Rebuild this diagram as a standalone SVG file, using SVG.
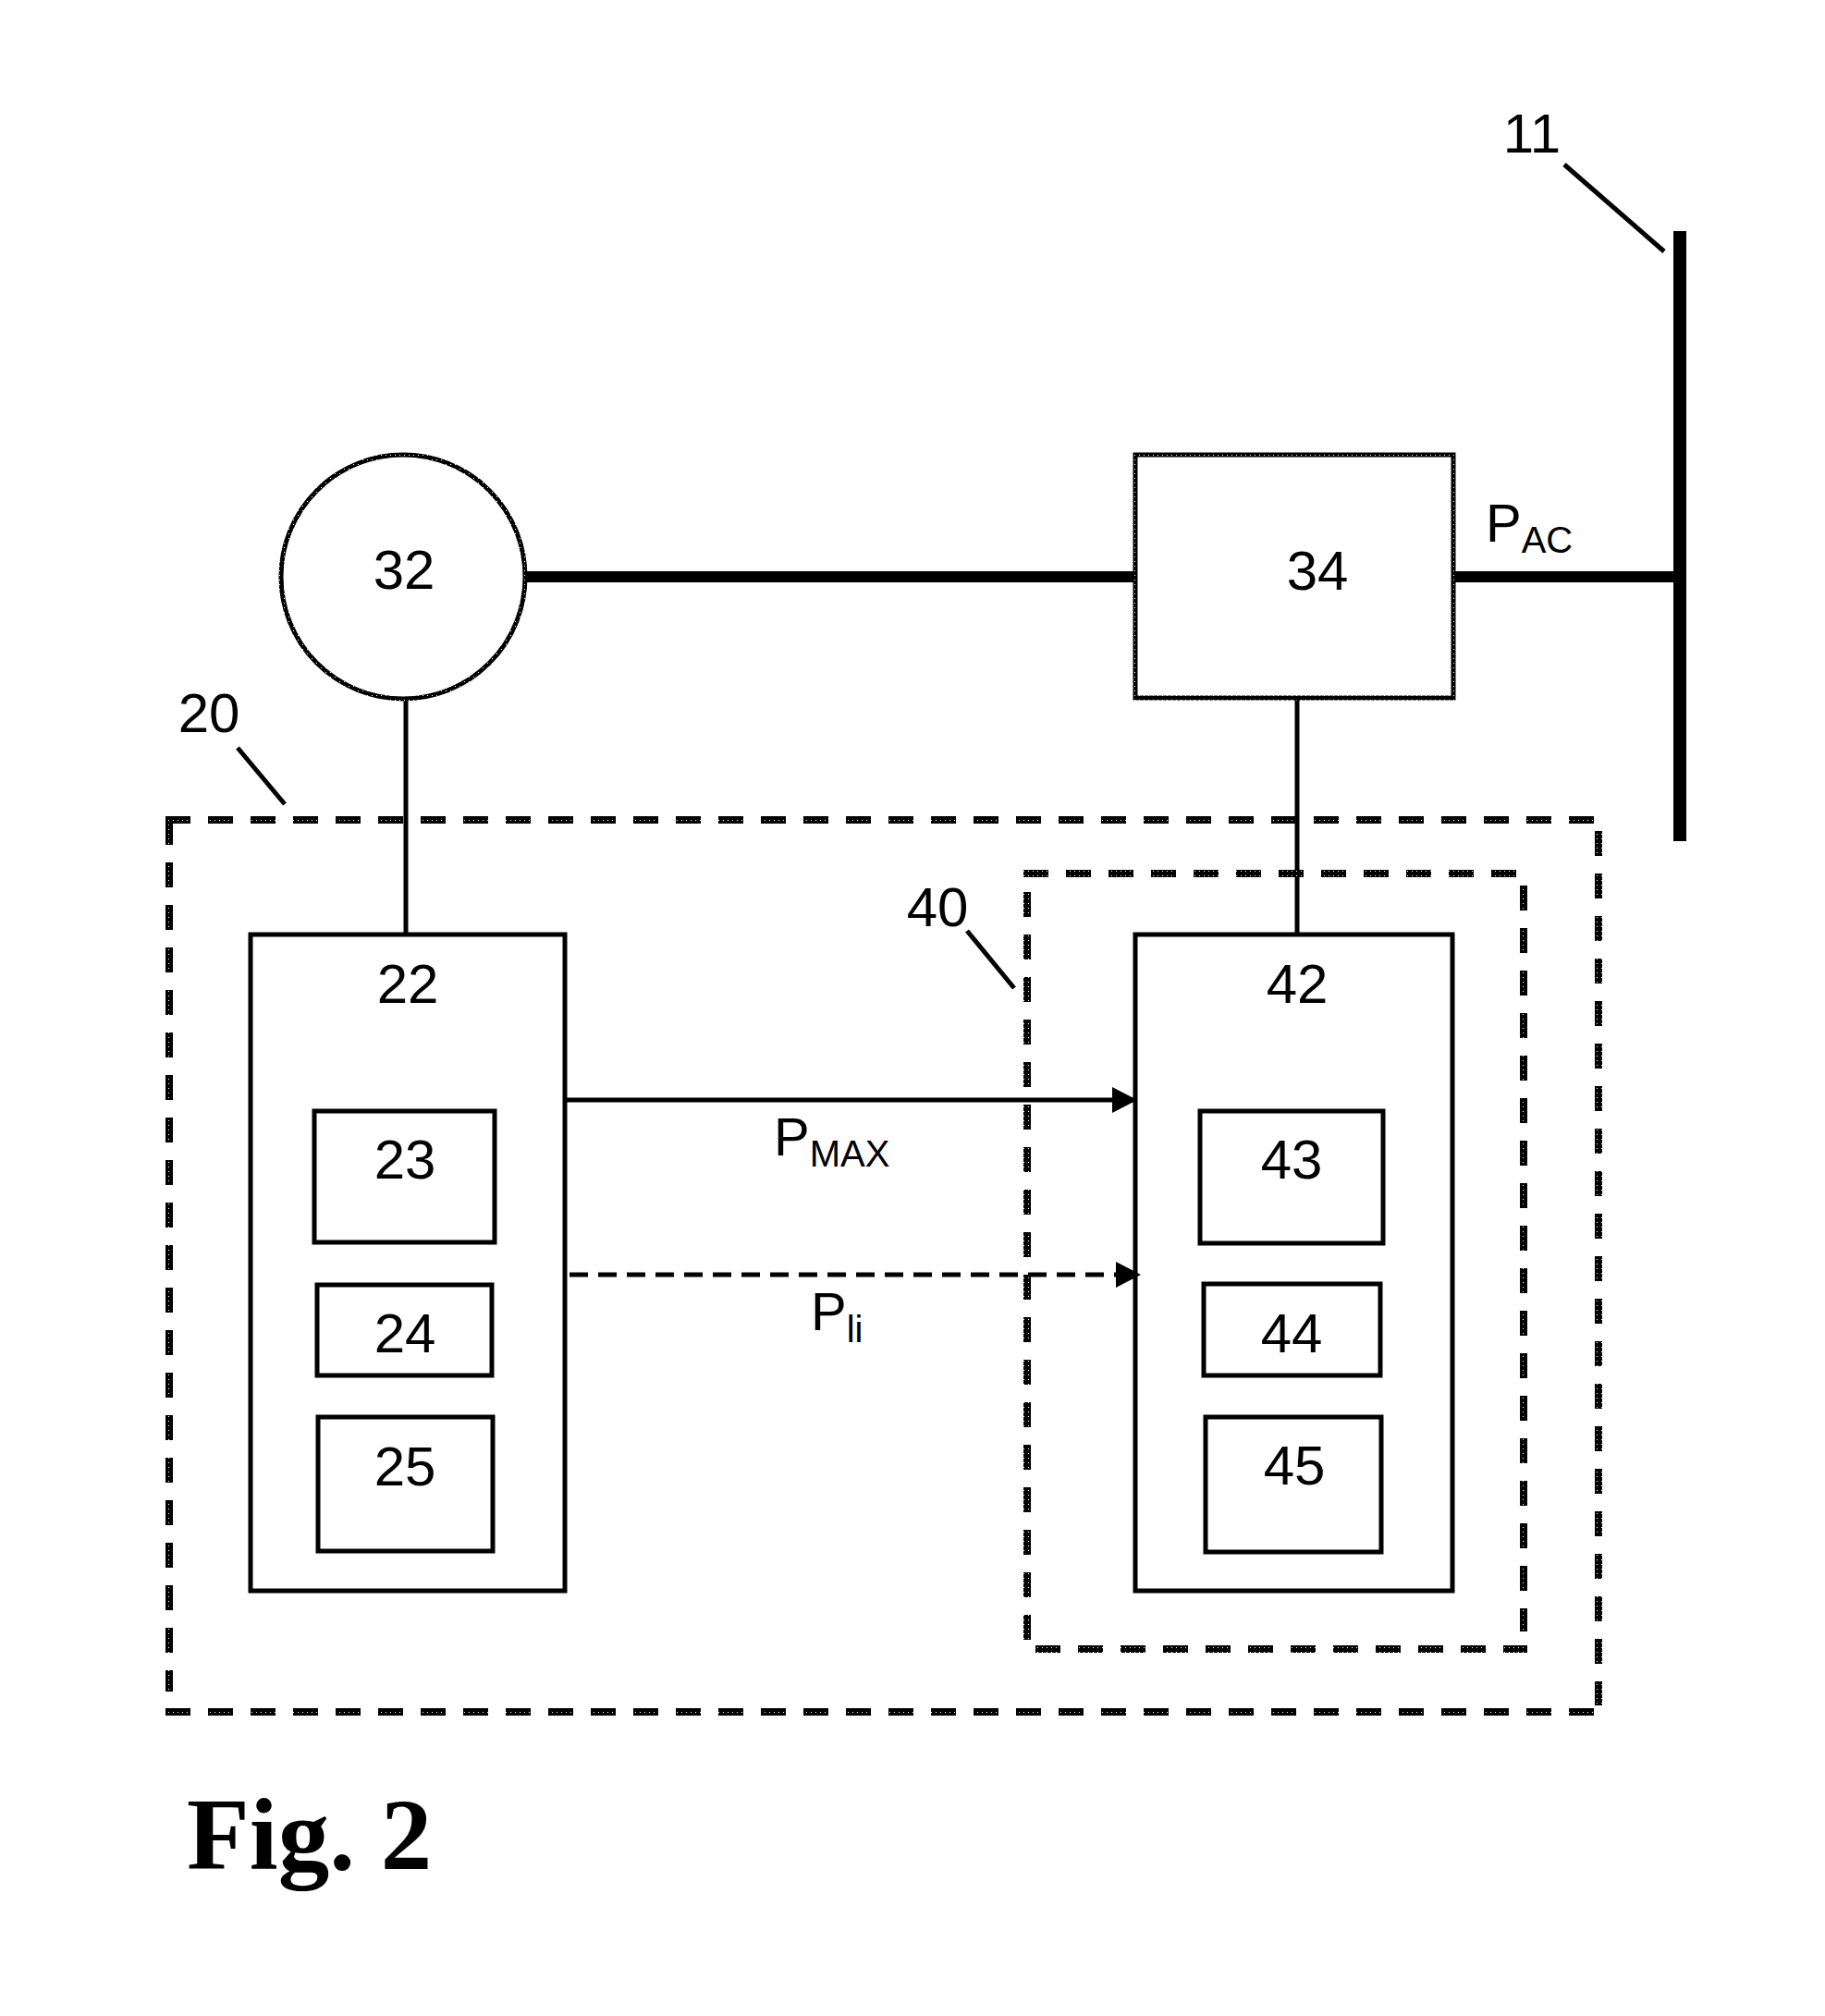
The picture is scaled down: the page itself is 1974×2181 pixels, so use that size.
<svg xmlns="http://www.w3.org/2000/svg" width="1974" height="2181" viewBox="0 0 1974 2181">
<style>
.t{font-family:"Liberation Sans",Arial,sans-serif;font-size:60px;fill:#000;text-anchor:middle}
.p{font-family:"Liberation Sans",Arial,sans-serif;font-size:58px;fill:#000}
.s{font-size:40px}
.box{fill:none;stroke:#000;stroke-width:5}
.ht{fill:none;stroke:url(#ht);stroke-width:5}
.dash{fill:none;stroke:url(#ht);stroke-width:8;stroke-dasharray:27 19}
.ln{stroke:#000;stroke-width:5;fill:none}
.thick{stroke:#000;stroke-width:12;fill:none}
</style>
<defs>
<pattern id="ht" width="5" height="5" patternUnits="userSpaceOnUse">
<rect width="5" height="5" fill="#000"/>
<rect x="2" y="2" width="1" height="1" fill="#fff"/>
</pattern>
<marker id="arr" markerUnits="userSpaceOnUse" markerWidth="28" markerHeight="28" refX="26" refY="14" orient="auto">
<path d="M0,0 L27,14 L0,28 Z" fill="#000"/>
</marker>
</defs>
<rect width="1974" height="2181" fill="#fff"/>

<g id="connectors">
<line class="thick" x1="568" y1="624" x2="1228" y2="624"/>
<line class="thick" x1="1572" y1="624" x2="1817" y2="624"/>
<line class="ln" x1="439" y1="756" x2="439" y2="1011"/>
<line class="ln" x1="1403" y1="755" x2="1403" y2="1011"/>
<line class="ln" x1="611" y1="1190" x2="1229" y2="1190" marker-end="url(#arr)"/>
<line class="ln" x1="616" y1="1379" x2="1233" y2="1379" stroke-width="6" stroke-dasharray="20 11" marker-end="url(#arr)"/>
<text class="p" x="837" y="1250">P<tspan class="s" dy="12">MAX</tspan></text>
<text class="p" x="877" y="1439">P<tspan class="s" dy="13">li</tspan></text>
<text class="p" x="1607" y="586">P<tspan class="s" dy="12">AC</tspan></text>
</g>

<g id="node11">
<line x1="1817" y1="250" x2="1817" y2="910" stroke="#000" stroke-width="14"/>
<line class="ln" x1="1692" y1="178" x2="1800" y2="272"/>
<text class="t" x="1657" y="165">11</text>
</g>

<g id="node32">
<circle class="ht" cx="436" cy="624" r="132"/>
<text class="t" x="437" y="637">32</text>
</g>

<g id="node34">
<rect class="ht" x="1228" y="492" width="344" height="263"/>
<text class="t" x="1425" y="638">34</text>
</g>

<g id="node20">
<line class="dash" x1="179" y1="887" x2="1725" y2="887"/>
<line class="dash" x1="183" y1="887" x2="183" y2="1830"/>
<line class="dash" x1="179" y1="1852" x2="1725" y2="1852"/>
<line class="dash" x1="1729" y1="899" x2="1729" y2="1845"/>
<line class="ln" x1="257" y1="809" x2="308" y2="870"/>
<text class="t" x="226" y="792">20</text>
</g>

<g id="node40">
<line class="dash" x1="1107" y1="945" x2="1645" y2="945"/>
<line class="dash" x1="1111" y1="965" x2="1111" y2="1784"/>
<line class="dash" x1="1120" y1="1784" x2="1652" y2="1784"/>
<line class="dash" x1="1648" y1="958" x2="1648" y2="1765"/>
<line class="ln" x1="1046" y1="1007" x2="1097" y2="1069"/>
<text class="t" x="1014" y="1002">40</text>
</g>

<g id="node22">
<rect class="box" x="271" y="1011" width="340" height="710"/>
<text class="t" x="441" y="1085">22</text>
</g>
<g id="node23">
<rect class="box" x="340" y="1202" width="195" height="142"/>
<text class="t" x="438" y="1275">23</text>
</g>
<g id="node24">
<rect class="box" x="343" y="1390" width="189" height="98"/>
<text class="t" x="438" y="1463">24</text>
</g>
<g id="node25">
<rect class="box" x="344" y="1533" width="189" height="145"/>
<text class="t" x="438" y="1607">25</text>
</g>

<g id="node42">
<rect class="box" x="1228" y="1011" width="343" height="710"/>
<text class="t" x="1403" y="1085">42</text>
</g>
<g id="node43">
<rect class="box" x="1298" y="1202" width="198" height="143"/>
<text class="t" x="1397" y="1275">43</text>
</g>
<g id="node44">
<rect class="box" x="1302" y="1389" width="191" height="99"/>
<text class="t" x="1397" y="1463">44</text>
</g>
<g id="node45">
<rect class="box" x="1304" y="1533" width="190" height="146"/>
<text class="t" x="1400" y="1606">45</text>
</g>

<text x="202" y="2022" font-family="'Liberation Serif','Times New Roman',serif" font-weight="bold" font-size="111" fill="#000">Fig. 2</text>
</svg>
